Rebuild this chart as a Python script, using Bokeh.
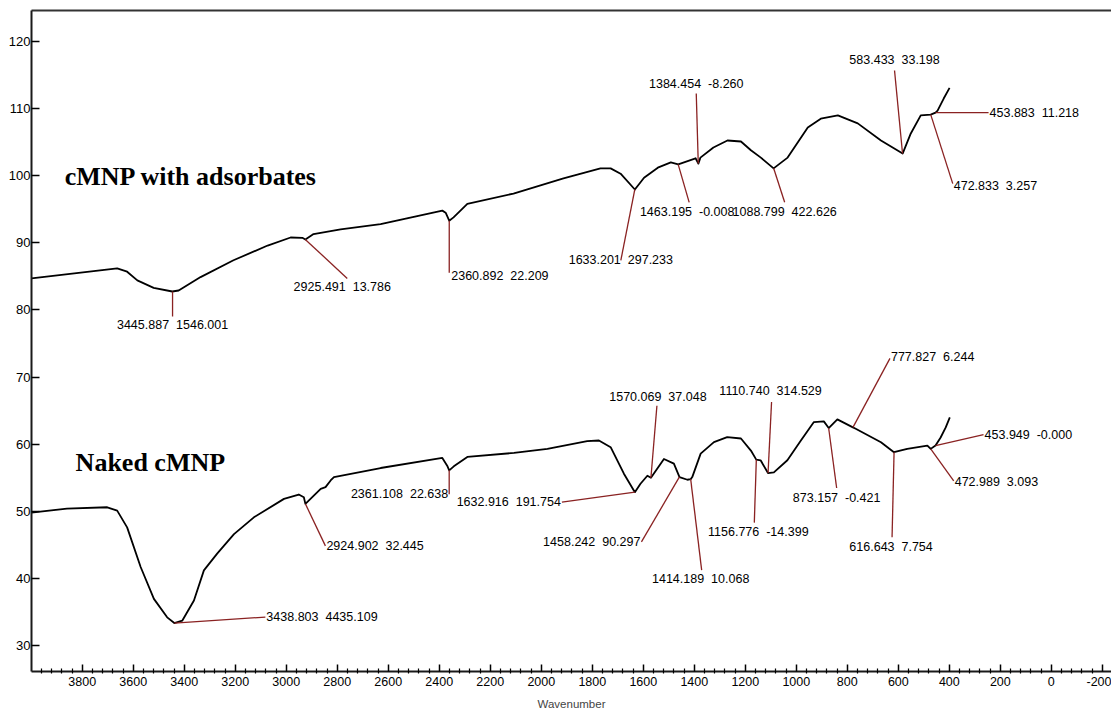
import numpy as np
from bokeh.plotting import figure
from bokeh.models import Range1d, FixedTicker, LinearAxis, ColumnDataSource
from bokeh.core.properties import value
from bokeh.embed import file_html
from bokeh.resources import INLINE

# ---- FTIR spectra (wavenumber in cm-1, transmittance) ----
upper_wn = [3999, 3663, 3624, 3584, 3520, 3447, 3422, 3336, 3207, 3073, 2983,
            2937, 2925, 2893, 2787, 2630, 2388, 2375, 2361, 2344, 2290,
            2109, 1913, 1768, 1728, 1689, 1633, 1597, 1543, 1492, 1463,
            1395, 1384, 1376, 1325, 1270, 1217, 1178, 1139, 1089, 1034,
            955, 904, 837, 759, 668, 583, 551, 512, 473, 454,
            446, 422, 399]
upper_t = [84.7, 86.2, 85.7, 84.4, 83.3, 82.75, 82.9, 84.9, 87.4, 89.6, 90.8,
           90.75, 90.5, 91.3, 92.0, 92.8, 94.8, 94.5, 93.3, 93.8, 95.8,
           97.35, 99.6, 101.1, 101.1, 100.3, 97.95, 99.7, 101.2, 102.0, 101.7,
           102.6, 101.8, 102.7, 104.2, 105.25, 105.1, 103.8, 102.7, 101.1, 102.7,
           107.2, 108.5, 109.0, 107.8, 105.25, 103.3, 106.3, 109.0, 109.1, 109.4,
           109.7, 111.5, 113.1]

lower_wn = [3999, 3860, 3702, 3663, 3624, 3571, 3519, 3467, 3439, 3408,
            3362, 3323, 3271, 3205, 3127, 3009, 2951, 2931, 2925, 2898,
            2865, 2846, 2826, 2813, 2630, 2388, 2369, 2361, 2343, 2290,
            2107, 1976, 1820, 1774, 1728, 1676, 1633, 1611, 1584, 1570,
            1519, 1480, 1458, 1427, 1414, 1408, 1375, 1323, 1271, 1217,
            1178, 1157, 1140, 1111, 1088, 1035, 982, 931, 892, 873,
            839, 778, 767, 668, 617, 565, 486, 473, 454, 434,
            414, 398]
lower_t = [49.8, 50.4, 50.6, 50.1, 47.6, 41.7, 36.95, 34.2, 33.35, 33.7,
           36.7, 41.2, 43.7, 46.6, 49.1, 51.85, 52.5, 52.1, 51.1, 52.1,
           53.35, 53.6, 54.6, 55.1, 56.45, 57.95, 56.8, 56.1, 56.7, 58.1,
           58.7, 59.3, 60.45, 60.55, 59.55, 55.6, 52.85, 54.1, 55.3, 55.0,
           57.8, 57.1, 55.1, 54.7, 54.8, 55.1, 58.6, 60.3, 61.05, 60.85,
           59.05, 57.7, 57.6, 55.7, 55.8, 57.6, 60.55, 63.3, 63.4, 62.4,
           63.7, 62.5, 62.3, 60.3, 58.8, 59.3, 59.8, 59.3, 59.8, 61.0,
           62.5, 64.0]

# ---- picked peaks: position and integrated value ----
upper_peak_wn = ["3445.887", "2925.491", "2360.892", "1633.201", "1463.195",
                 "1384.454", "1088.799", "583.433", "453.883", "472.833"]
upper_peak_val = ["1546.001", "13.786", "22.209", "297.233", "-0.008",
                  "-8.260", "422.626", "33.198", "11.218", "3.257"]
lower_peak_wn = ["3438.803", "2924.902", "2361.108", "1632.916", "1570.069",
                 "1458.242", "1414.189", "1156.776", "1110.740", "873.157",
                 "777.827", "616.643", "453.949", "472.989"]
lower_peak_val = ["4435.109", "32.445", "22.638", "191.754", "37.048",
                  "90.297", "10.068", "-14.399", "314.529", "-0.421",
                  "6.244", "7.754", "-0.000", "3.093"]

series_names = ["cMNP with adsorbates", "Naked cMNP"]
x_ticks = list(range(-200, 3801, 200))
y_ticks = list(range(30, 121, 10))

# ---- callout placement (screen px): leader end (dx, dy), text align/baseline, text nudge ----
upper_callouts = [(0, 25, "center", "top", 0, 2),
                  (42, 39, "center", "top", -5, 2),
                  (0, 52, "left", "middle", 2, 3),
                  (-14, 71, "center", "middle", 0, 0),
                  (11, 38, "center", "top", -2, 3),
                  (-2, -70, "center", "bottom", 0, -2),
                  (11, 34, "center", "top", 0, 3),
                  (-8, -83, "center", "bottom", 0, -4),
                  (53, 0, "left", "middle", 1, 0),
                  (22, 69, "left", "middle", 1, 2)]
lower_callouts = [(91, -6, "left", "middle", 1, 0),
                  (20, 42, "left", "middle", 1, 0),
                  (0, 24, "right", "middle", -1, 0),
                  (-73, 10, "right", "middle", -1, 0),
                  (6, -72, "center", "bottom", 1, -2),
                  (-38, 65, "right", "middle", -1, 0),
                  (11, 91, "center", "top", -1, 2),
                  (-2, 63, "center", "top", 4, 2),
                  (3.5, -71, "center", "bottom", -1, -4),
                  (8, 60, "center", "top", 0, 3),
                  (37, -69, "left", "middle", 1, -1),
                  (-2, 85, "center", "top", -1, 3),
                  (48, -11, "left", "middle", 1, 0),
                  (23, 32, "left", "middle", 1, 1)]

W, H = 1111, 713
BL, BR, BT, BB = 31, 0, 10, 42
X0, X1 = 3999, -236
Y0, Y1 = 26.13, 124.62
sx = (W - BL - BR) / (X0 - X1)
sy = (H - BT - BB) / (Y1 - Y0)

p = figure(width=W, height=H, x_range=Range1d(X0, X1), y_range=Range1d(Y0, Y1),
           output_backend="svg", toolbar_location=None,
           min_border_left=BL, min_border_right=BR, min_border_top=BT, min_border_bottom=BB)
p.grid.visible = False
p.outline_line_color = None
p.background_fill_color = "white"
p.border_fill_color = "white"

AXIS_COLOR = "#1a1a1a"
LABEL_FONT = "Liberation Sans"

xa = p.xaxis[0]
xa.ticker = FixedTicker(ticks=x_ticks,
                        minor_ticks=[m for m in range(-240, 4000, 40) if m % 200 != 0])
xa.major_label_overrides = {t: str(t) for t in x_ticks}
xa.axis_line_width = 2
xa.axis_line_color = AXIS_COLOR
xa.major_tick_in = 7
xa.major_tick_out = 0
xa.major_tick_line_width = 1.5
xa.minor_tick_in = 3
xa.minor_tick_out = 2
xa.minor_tick_line_width = 1.2
xa.major_label_text_font = LABEL_FONT
xa.major_label_text_font_size = "12.5px"
xa.major_label_text_color = "black"
xa.major_label_standoff = 3
xa.axis_label = "Wavenumber"
xa.axis_label_text_font = LABEL_FONT
xa.axis_label_text_font_size = "11.5px"
xa.axis_label_text_font_style = "normal"
xa.axis_label_standoff = 9

ya = p.yaxis[0]
ya.ticker = FixedTicker(ticks=y_ticks, minor_ticks=[])
ya.axis_line_width = 2
ya.axis_line_color = AXIS_COLOR
ya.major_tick_in = 8
ya.major_tick_out = 0
ya.major_tick_line_width = 1.5
ya.minor_tick_line_color = None
ya.major_label_text_font = LABEL_FONT
ya.major_label_text_font_size = "13px"
ya.major_label_text_color = "black"
ya.major_label_standoff = 1

top = LinearAxis(ticker=FixedTicker(ticks=[], minor_ticks=[]), axis_line_width=2,
                 axis_line_color="#333333", major_tick_in=0, major_tick_out=0,
                 minor_tick_in=0, minor_tick_out=0, major_label_standoff=0)
p.add_layout(top, "above")

LEADER = "#8a2222"
GAP = "\u00a0\u00a0"


def draw_peaks(wn, t, peak_wn, peak_val, callouts):
    order = np.argsort(wn)
    xs_sorted = np.asarray(wn, float)[order]
    ts_sorted = np.asarray(t, float)[order]
    x0s, y0s, x1s, y1s = [], [], [], []
    groups = {}
    for pw, pv, (dx, dy, align, base, tx, ty) in zip(peak_wn, peak_val, callouts):
        w = float(pw)
        yv = float(np.interp(w, xs_sorted, ts_sorted))
        xe = w - dx / sx
        ye = yv - dy / sy
        x0s.append(w); y0s.append(yv); x1s.append(xe); y1s.append(ye)
        g = groups.setdefault((align, base), {"x": [], "y": [], "text": []})
        g["x"].append(xe - tx / sx)
        g["y"].append(ye - ty / sy)
        g["text"].append(f"{pw}{GAP}{pv}")
    p.segment(x0=x0s, y0=y0s, x1=x1s, y1=y1s, line_color=LEADER, line_width=1.3)
    for (align, base), g in groups.items():
        p.text(x="x", y="y", text="text", source=ColumnDataSource(g),
               text_font=value(LABEL_FONT), text_font_size="12.5px",
               text_color="black", text_align=align, text_baseline=base)


p.line(upper_wn, upper_t, line_color="black", line_width=1.8, line_join="round")
p.line(lower_wn, lower_t, line_color="black", line_width=1.8, line_join="round")
draw_peaks(upper_wn, upper_t, upper_peak_wn, upper_peak_val, upper_callouts)
draw_peaks(lower_wn, lower_t, lower_peak_wn, lower_peak_val, lower_callouts)

# series captions
p.text(x=[3869, 3826], y=[99.9, 57.3], text=series_names,
       text_font=value("Liberation Serif"), text_font_style="bold",
       text_font_size="26px", text_color="black",
       text_align="left", text_baseline="middle")

open("out.html", "w").write(file_html(p, INLINE))
